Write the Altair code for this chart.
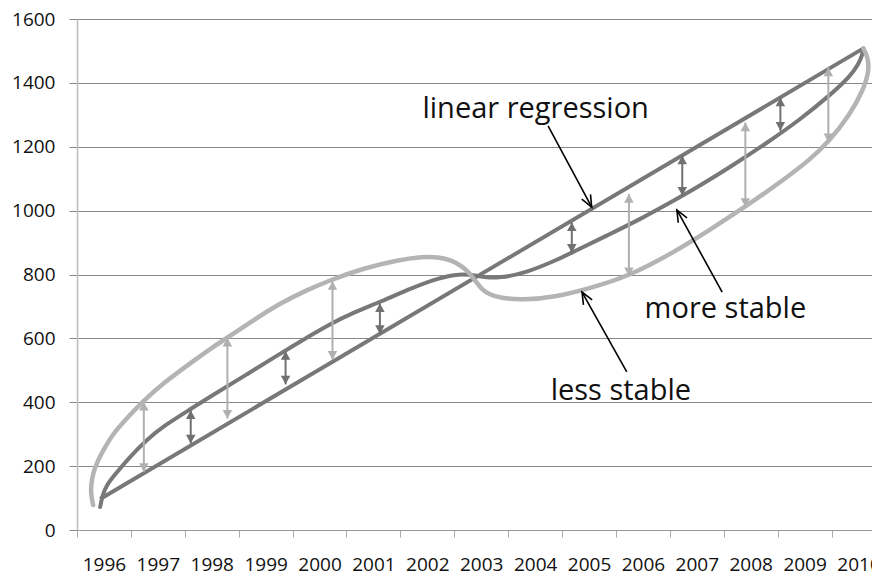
import math
import altair as alt
import pandas as pd

# ---------------- data ----------------
linear_year = [1995.93, 2010.09]
linear_value = [97, 1508]

stable_year = [1995.93, 1995.97, 1996.05, 1996.17, 1996.48, 1996.79, 1997.10, 1997.60, 1998.03, 1998.65,
               1999.27, 1999.64, 2000.19, 2000.65, 2001.12, 2001.74, 2002.23, 2002.60, 2002.85, 2003.10,
               2003.35, 2003.78, 2004.40, 2004.71, 2005.33, 2005.94, 2006.56, 2007.06, 2007.68, 2008.29,
               2008.91, 2009.53, 2009.84, 2010.00, 2010.07, 2010.09]
stable_value = [72, 108, 140, 167, 229, 282, 325, 378, 424, 487,
                552, 590, 645, 682, 714, 760, 790, 802, 798, 790,
                790, 802, 845, 871, 922, 972, 1030, 1078, 1143, 1211,
                1284, 1370, 1420, 1458, 1488, 1508]

unstable_year = [1995.80, 1995.76, 1995.76, 1995.80, 1995.88, 1995.99, 1996.17, 1996.48, 1996.73, 1997.10,
                 1997.60, 1998.03, 1998.31, 1998.80, 1999.27, 1999.75, 2000.19, 2000.81, 2001.43, 2001.92,
                 2002.20, 2002.45, 2002.65, 2002.79, 2002.91, 2003.02, 2003.15, 2003.35, 2003.78, 2004.40,
                 2005.02, 2005.74, 2006.56, 2007.24, 2007.90, 2008.60, 2009.10, 2009.44, 2009.84, 2010.09,
                 2010.20, 2010.17, 2010.09]
unstable_value = [78, 110, 140, 180, 215, 250, 303, 360, 404, 460,
                  522, 574, 604, 660, 710, 750, 782, 819, 845, 856,
                  855, 845, 825, 804, 775, 752, 738, 726, 720, 730,
                  757, 795, 868, 940, 1012, 1095, 1160, 1214, 1300, 1378,
                  1440, 1482, 1508]

dark_arrow_year = [1997.61, 1999.37, 2001.12, 2004.68, 2006.73, 2008.55]
dark_arrow_top = [375, 560, 710, 963, 1172, 1354]
dark_arrow_bottom = [271, 456, 614, 868, 1047, 1250]

light_arrow_year = [1996.74, 1998.29, 2000.24, 2005.74, 2007.9, 2009.44]
light_arrow_top = [401, 602, 779, 1052, 1276, 1448]
light_arrow_bottom = [182, 349, 533, 795, 1012, 1214]

label_text = ["linear regression", "more stable", "less stable"]
label_year = [2004.01, 2007.53, 2005.59]
label_value = [1290, 664, 407]

pointer_from_year = [2004.24, 2007.47, 2005.70]
pointer_from_value = [1265, 745, 495]
pointer_to_year = [2005.05, 2006.63, 2004.87]
pointer_to_value = [1011, 1002, 745]

year_ticks = [1995.5 + i for i in range(15)]
value_ticks = list(range(0, 1601, 200))

# ---------------- layout ----------------
W, H = 795, 511
X0, X1 = 1995.5, 2010.25
PX_YEAR = W / (X1 - X0)
PX_VAL = H / 1600.0

DARK = "#787878"
LIGHT = "#b4b4b4"
FONT = "Open Sans"

xscale = alt.Scale(domain=[X0, X1], nice=False, zero=False)
yscale = alt.Scale(domain=[0, 1600], nice=False, zero=True)

x_axis = alt.Axis(values=year_ticks, labelExpr="format(datum.value + 0.5, 'd')",
                  labelOffset=PX_YEAR / 2,
                  labelFlush=False, labelOverlap=False,
                  tickSize=7, tickColor="#aaaaaa", domainColor="#999999", labelPadding=18,
                  grid=False, title=None, labelFont=FONT, labelFontSize=19, labelColor="#111111")
y_axis = alt.Axis(values=value_ticks, format="d", tickSize=8, tickColor="#888888",
                  domainColor="#bdbdbd", domainWidth=1.5, grid=True, gridColor="#888888",
                  gridWidth=1, labelPadding=14,
                  title=None, labelFont=FONT, labelFontSize=19, labelColor="#111111")

def X(field):
    return alt.X(field, type="quantitative", scale=xscale, axis=x_axis)

def Y(field):
    return alt.Y(field, type="quantitative", scale=yscale, axis=y_axis)

lin_df = pd.DataFrame({"year": linear_year, "value": linear_value, "o": range(len(linear_year))})
st_df = pd.DataFrame({"year": stable_year, "value": stable_value, "o": range(len(stable_year))})
un_df = pd.DataFrame({"year": unstable_year, "value": unstable_value, "o": range(len(unstable_year))})

linear = alt.Chart(lin_df).mark_line(color=DARK, strokeWidth=4).encode(
    x=X("year"), y=Y("value"), order="o:Q")
stable = alt.Chart(st_df).mark_line(color=DARK, strokeWidth=4, interpolate="basis",
                                    strokeCap="round").encode(
    x=X("year"), y=Y("value"), order="o:Q")
unstable = alt.Chart(un_df).mark_line(color=LIGHT, strokeWidth=4.5, interpolate="basis",
                                      strokeCap="round").encode(
    x=X("year"), y=Y("value"), order="o:Q")

UP = "M0,0L-0.55,1L0.55,1Z"
DOWN = "M0,0L-0.55,-1L0.55,-1Z"

def double_arrows(years, tops, bottoms, color):
    df = pd.DataFrame({"year": years, "top": tops, "bottom": bottoms})
    stem = alt.Chart(df).mark_rule(color=color, strokeWidth=2).encode(
        x=X("year"), y=Y("top"), y2="bottom:Q")
    up = alt.Chart(df).mark_point(shape=UP, filled=True, size=300, color=color, opacity=1,
                                  strokeWidth=0).encode(x=X("year"), y=Y("top"))
    down = alt.Chart(df).mark_point(shape=DOWN, filled=True, size=300, color=color, opacity=1,
                                    strokeWidth=0).encode(x=X("year"), y=Y("bottom"))
    return [stem, up, down]

angles = []
for fy, fv, ty, tv in zip(pointer_from_year, pointer_from_value, pointer_to_year, pointer_to_value):
    dx = (ty - fy) * PX_YEAR
    dy = -(tv - fv) * PX_VAL
    angles.append(math.degrees(math.atan2(dx, -dy)) % 360)

ptr_df = pd.DataFrame({"fy": pointer_from_year, "fv": pointer_from_value,
                       "ty": pointer_to_year, "tv": pointer_to_value, "angle": angles})
ptr_line = alt.Chart(ptr_df).mark_rule(color="#000000", strokeWidth=1.6).encode(
    x=X("fy"), y=Y("fv"), x2="ty:Q", y2="tv:Q")
VHEAD = "M-0.42,1L0,0L0.42,1"
ptr_head = alt.Chart(ptr_df).mark_point(shape=VHEAD, filled=False, size=560, color="#000000",
                                        opacity=1, strokeWidth=1.6).encode(
    x=X("ty"), y=Y("tv"), angle=alt.Angle("angle:Q", scale=None))

lab_df = pd.DataFrame({"text": label_text, "year": label_year, "value": label_value})
labels = alt.Chart(lab_df).mark_text(font=FONT, fontSize=29, color="#111111", align="center",
                                     baseline="alphabetic").encode(
    x=X("year"), y=Y("value"), text="text:N")

layers = [linear, stable, unstable]
layers += double_arrows(dark_arrow_year, dark_arrow_top, dark_arrow_bottom, "#707070")
layers += double_arrows(light_arrow_year, light_arrow_top, light_arrow_bottom, "#b0b0b0")
layers += [ptr_line, ptr_head, labels]

chart = alt.layer(*layers).properties(
    width=W, height=H,
    padding={"left": 69, "top": 11, "right": 0, "bottom": 50},
    autosize=alt.AutoSizeParams(type="none"),
).configure_view(stroke=None)

chart.save("out.html", embed_options={"renderer": "svg", "actions": False})
